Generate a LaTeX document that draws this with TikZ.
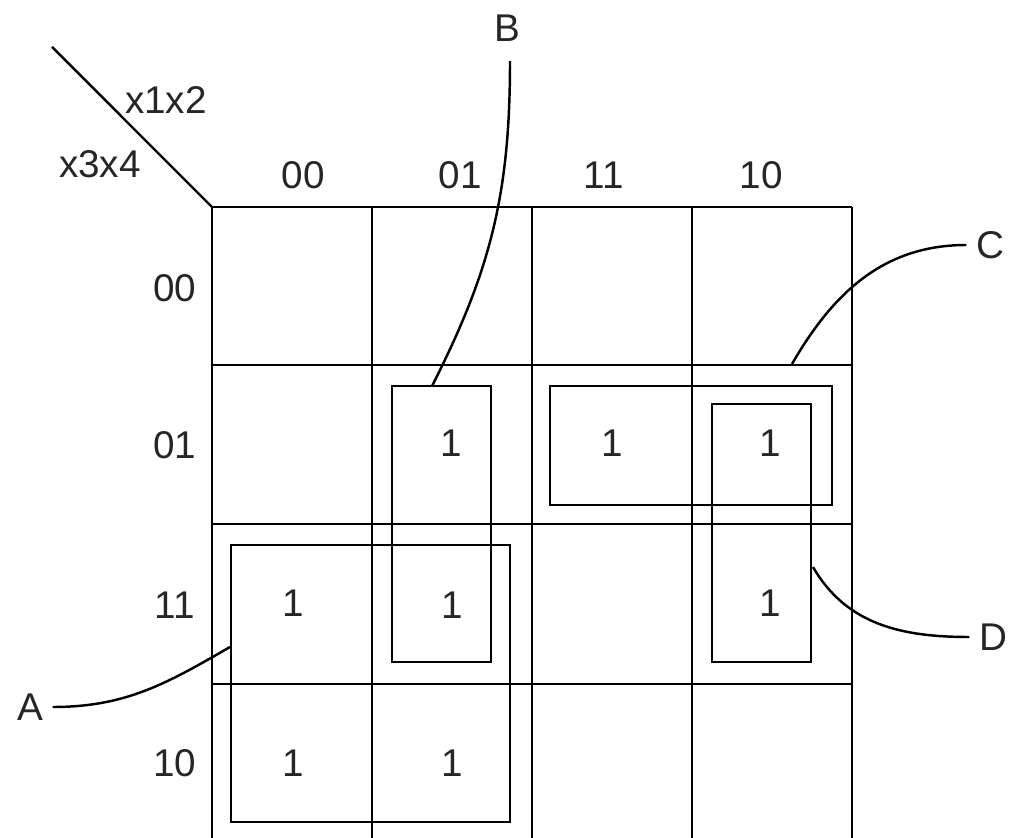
\documentclass[tikz,border=0pt]{standalone}
\usepackage{fontspec}
\setmainfont{Liberation Sans}
\begin{document}
\begin{tikzpicture}[line width=0.7pt,
    lbl/.style={font=\fontsize{11}{13}\selectfont, text=black!85, inner sep=1pt},
    grpbox/.style={draw, rectangle, inner sep=0pt}]
    \useasboundingbox (0, 0) rectangle (10.11, -8.38);

    % Griglia
    \draw (2.12, -2.07) -- (8.52, -2.07);
    \draw (2.12, -3.65) -- (8.52, -3.65);
    \draw (2.12, -5.24) -- (8.52, -5.24);
    \draw (2.12, -6.84) -- (8.52, -6.84);
    \draw (2.12, -2.07) -- (2.12, -8.45);
    \draw (3.72, -2.07) -- (3.72, -8.45);
    \draw (5.32, -2.07) -- (5.32, -8.45);
    \draw (6.92, -2.07) -- (6.92, -8.45);
    \draw (8.52, -2.07) -- (8.52, -8.45);

    % Diagonale e variabili
    \coordinate (corner) at (2.12, -2.07);
    \coordinate (diagTop) at (0.52, -0.47);
    \draw (diagTop) -- (corner);
    \node[lbl] (vx12) at (1.66, -1.00) {x1x2};
    \node[lbl] (vx34) at (1.00, -1.64) {x3x4};

    % Intestazioni colonne
    \node[lbl] (c00) at (3.03, -1.75) {00};
    \node[lbl] (c01) at (4.60, -1.75) {01};
    \node[lbl] (c11) at (6.04, -1.75) {11};
    \node[lbl] (c10) at (7.61, -1.75) {10};

    % Intestazioni righe
    \node[lbl] (r00) at (1.75, -2.88) {00};
    \node[lbl] (r01) at (1.75, -4.45) {01};
    \node[lbl] (r11) at (1.75, -6.05) {11};
    \node[lbl] (r10) at (1.75, -7.63) {10};

    % Celle con 1
    \node[lbl] (m1) at (4.51, -4.43) {1};
    \node[lbl] (m2) at (6.12, -4.43) {1};
    \node[lbl] (m3) at (7.70, -4.43) {1};
    \node[lbl] (m4) at (2.93, -6.03) {1};
    \node[lbl] (m5) at (4.52, -6.05) {1};
    \node[lbl] (m6) at (7.70, -6.03) {1};
    \node[lbl] (m7) at (2.93, -7.63) {1};
    \node[lbl] (m8) at (4.52, -7.63) {1};

    % Raggruppamenti
    \node[grpbox, minimum width=0.99cm, minimum height=2.76cm] (gB) at (4.415, -5.24) {};
    \node[grpbox, minimum width=2.82cm, minimum height=1.19cm] (gC) at (6.91, -4.455) {};
    \node[grpbox, minimum width=0.99cm, minimum height=2.58cm] (gD) at (7.615, -5.33) {};
    \node[grpbox, minimum width=2.79cm, minimum height=2.77cm] (gA) at (3.705, -6.835) {};

    % Etichette dei gruppi
    \node[lbl] (nB) at (5.07, -0.28) {B};
    \node[lbl] (nC) at (9.90, -2.45) {C};
    \node[lbl] (nD) at (9.93, -6.37) {D};
    \node[lbl] (nA) at (0.30, -7.07) {A};

    % Linee di richiamo
    \coordinate (eB) at (4.32, -3.86);
    \coordinate (eC) at (7.92, -3.64);
    \coordinate (eD) at (8.13, -5.67);
    \coordinate (eA) at (2.30, -6.47);
    \draw (nB.south) ++(0.03, -0.15) to[out=-90, in=63] (eB);
    \draw (nC.west) ++(-0.05, 0) to[out=180, in=60] (eC);
    \draw (nD.west) ++(-0.05, 0) to[out=180, in=-60] (eD);
    \draw (nA.east) ++(0.05, 0) to[out=0, in=-150] (eA);
\end{tikzpicture}
\end{document}
